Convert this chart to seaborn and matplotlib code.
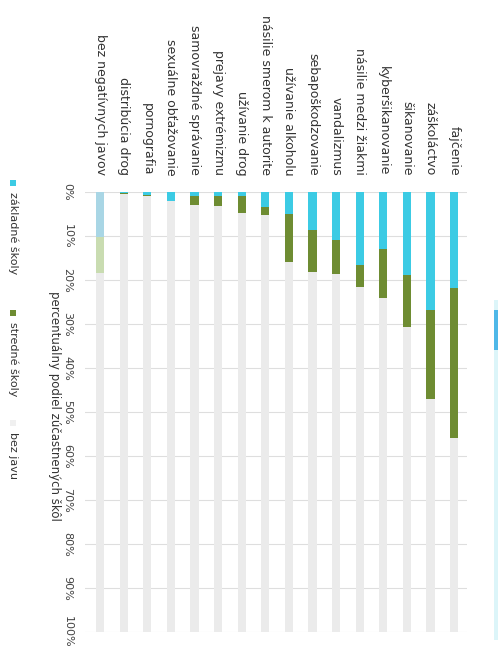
import matplotlib
matplotlib.use("Agg")
import matplotlib.pyplot as plt
from matplotlib.patches import Rectangle
import pandas as pd
import seaborn as sns

# === DATA ===
categories = [
    "bez negatívnych javov", "distribúcia drog", "pornografia", "sexuálne obťažovanie",
    "samovraždné správanie", "prejavy extrémizmu", "užívanie drog",
    "násilie smerom k autorite", "užívanie alkoholu", "sebapoškodzovanie", "vandalizmus",
    "násilie medzi žiakmi", "kyberšikanovanie", "šikanovanie", "záškoláctvo", "fajčenie",
]
zakladne = [10.2, 0.25, 0.6, 2.0, 1.0, 1.0, 1.0, 3.4, 4.9, 8.6, 10.9, 16.6, 13.0, 18.9, 26.8, 21.8]
stredne = [8.3, 0.25, 0.4, 0.0, 2.0, 2.2, 3.8, 1.8, 11.0, 9.6, 7.8, 5.0, 11.2, 11.7, 20.2, 34.2]
series_names = ["základné školy", "stredné školy", "bez javu"]
y_ticks = list(range(0, 101, 10))
axis_label = "percentuálny podiel zúčastnených škôl"

# === COLORS ===
c_zs = "#3ccbe4"
c_ss = "#6e8c32"
c_bez = "#ebebeb"
c_zs_light = "#a9d6e5"
c_ss_light = "#c9dcb1"

df = pd.DataFrame({"kategoria": categories, "zs": zakladne, "ss": stredne})
df["zs_ss"] = df["zs"] + df["ss"]
df["spolu"] = 100.0

W, H = 498, 652
fig = plt.figure(figsize=(W / 100, H / 100), dpi=100)
plt.rcParams["font.family"] = ["DejaVu Sans"]

def fx(px):
    return px / W

def fy(py):
    return 1 - py / H

ax_left, ax_right, ax_top, ax_bot = 85, 467, 192, 632
ax = fig.add_axes([fx(ax_left), fy(ax_bot), fx(ax_right - ax_left), (ax_bot - ax_top) / H])

bar_w = 0.35
pal_ss = {c: (c_ss_light if i == 0 else c_ss) for i, c in enumerate(categories)}
pal_zs = {c: (c_zs_light if i == 0 else c_zs) for i, c in enumerate(categories)}

# stacked bars drawn as cumulative layers, largest first
sns.barplot(data=df, x="kategoria", y="spolu", color=c_bez, width=bar_w, saturation=1,
            order=categories, ax=ax, zorder=2, linewidth=0)
sns.barplot(data=df, x="kategoria", y="zs_ss", hue="kategoria", palette=pal_ss, width=bar_w,
            saturation=1, order=categories, ax=ax, zorder=3, linewidth=0, legend=False)
sns.barplot(data=df, x="kategoria", y="zs", hue="kategoria", palette=pal_zs, width=bar_w,
            saturation=1, order=categories, ax=ax, zorder=4, linewidth=0, legend=False)

ax.set_ylim(100, 0)
ax.set_xlim(-0.64, len(categories) - 1 + 0.55)
ax.set_yticks(y_ticks)
ax.set_yticklabels([f"{v}%" for v in y_ticks])
ax.yaxis.grid(True, color="#dedede", linewidth=0.8, zorder=0)
ax.set_axisbelow(True)
for s in ax.spines.values():
    s.set_visible(False)

ax.set_xlabel("")
ax.set_ylabel("")
ax.tick_params(axis="x", top=True, labeltop=True, bottom=False, labelbottom=False,
               length=0, pad=12, labelsize=9, labelcolor="#333333")
ax.tick_params(axis="y", length=0, pad=9, labelsize=8, labelcolor="#444444")
for t in ax.get_xticklabels():
    t.set_rotation(-90)
    t.set_ha("center")
    t.set_va("bottom")
for t in ax.get_yticklabels():
    t.set_rotation(-90)
    t.set_ha("right")
    t.set_va("center")

fig.text(fx(54), fy((ax_top + ax_bot) / 2 - 6), axis_label, rotation=-90,
         ha="center", va="center", fontsize=8.5, color="#333333")

# rotated legend on the left
legend_items = [(183, c_zs, series_names[0]), (313, c_ss, series_names[1]), (423, "#f0f0f0", series_names[2])]
for py, col, name in legend_items:
    fig.add_artist(Rectangle((fx(10), fy(py + 3)), fx(6), 6 / H, transform=fig.transFigure,
                             color=col, linewidth=0))
    fig.text(fx(13), fy(py + 9), name, rotation=-90, ha="center", va="top",
             fontsize=8, color="#333333")

# cut-off element at the right edge
fig.add_artist(Rectangle((fx(494), fy(640)), fx(4), 340 / H, transform=fig.transFigure,
                         color="#dcf5f9", linewidth=0))
fig.add_artist(Rectangle((fx(494), fy(350)), fx(4), 40 / H, transform=fig.transFigure,
                         color="#4fb8e8", linewidth=0))

fig.savefig("out.png", dpi=100)
